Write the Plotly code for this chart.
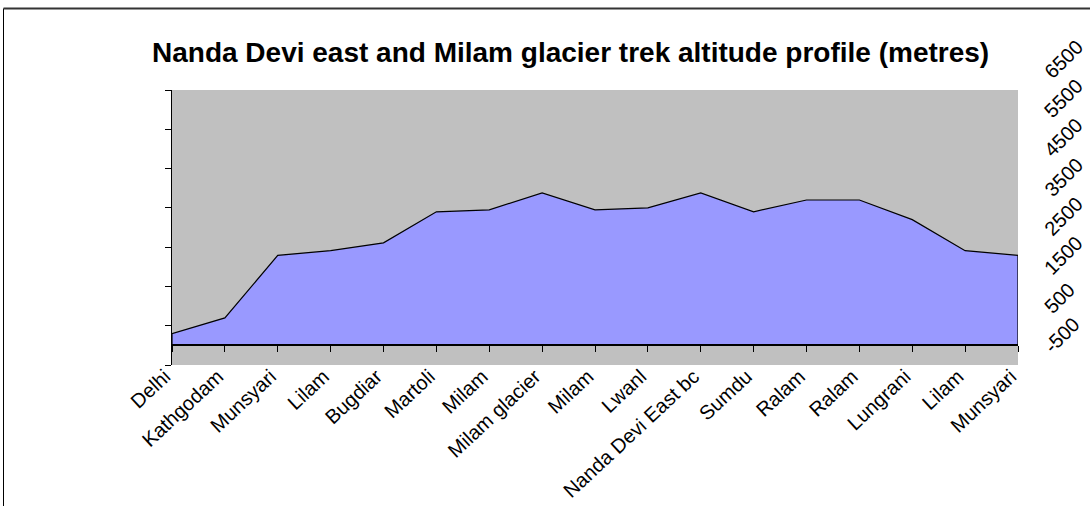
import plotly.graph_objects as go

# Trek stages and altitudes (metres)
stages = ["Delhi", "Kathgodam", "Munsyari", "Lilam", "Bugdiar", "Martoli", "Milam",
          "Milam glacier", "Milam", "Lwanl", "Nanda Devi East bc", "Sumdu", "Ralam",
          "Ralam", "Lungrani", "Lilam", "Munsyari"]
altitude = [300, 700, 2290, 2410, 2610, 3400, 3450, 3880, 3450, 3500, 3880,
            3400, 3700, 3700, 3200, 2410, 2290]
axis_ticks = [-500, 500, 1500, 2500, 3500, 4500, 5500, 6500]

FONT = "Arial, Liberation Sans, sans-serif"

# page geometry (px)
W, H = 1090, 506
L_M, R_M, T_M, B_M = 172, 72, 90, 141
PW = W - L_M - R_M
PH = H - T_M - B_M
Y0, Y1 = -500, 6500


def px_x(px):
    return (px - L_M) / PW


def px_y(py):
    return (H - B_M - py) / PH


idx = list(range(len(stages)))

fig = go.Figure()
# area polygon closed down to zero at both ends
fig.add_trace(go.Scatter(
    x=[idx[0]] + idx + [idx[-1]],
    y=[0] + altitude + [0],
    mode="lines",
    fill="toself",
    fillcolor="#9999FF",
    line=dict(color="black", width=1.2),
    hoverinfo="skip",
    showlegend=False,
))
# category baseline at zero altitude (carries the tick marks on xaxis2)
fig.add_trace(go.Scatter(
    x=idx, y=[0] * len(idx), xaxis="x2", yaxis="y",
    mode="lines", line=dict(color="black", width=1.5),
    hoverinfo="skip", showlegend=False,
))

# right-hand rotated value labels
fs_r = 20
char_w = {"-": 0.333}
for v in axis_ticks:
    txt = str(v)
    tw = sum(char_w.get(c, 0.556) for c in txt) * fs_r
    th = 0.72 * fs_r
    sx = 1053
    cx = sx + 0.354 * (tw - th)
    shift = 10.5 + 0.354 * (tw + th)
    fig.add_annotation(
        x=px_x(cx), xref="paper", y=v, yref="y", yshift=shift,
        text=txt, showarrow=False, textangle=-45,
        xanchor="center", yanchor="middle",
        font=dict(family=FONT, size=fs_r, color="black"),
    )

# title
fig.add_annotation(
    x=px_x(570), xref="paper", y=px_y(52), yref="paper",
    text="<b>Nanda Devi east and Milam glacier trek altitude profile (metres)</b>",
    showarrow=False, xanchor="center", yanchor="middle",
    font=dict(family=FONT, size=28, color="black"),
)

# chart-area frame (top and left edges)
fig.add_shape(type="line", xref="paper", yref="paper",
              x0=px_x(3.5), x1=px_x(3.5), y0=px_y(H + 5), y1=px_y(8.5),
              line=dict(color="black", width=1))
fig.add_shape(type="line", xref="paper", yref="paper",
              x0=px_x(3.5), x1=px_x(W + 5), y0=px_y(8.5), y1=px_y(8.5),
              line=dict(color="#333333", width=2))

fig.update_layout(
    width=W, height=H,
    margin=dict(l=L_M, r=R_M, t=T_M, b=B_M, autoexpand=False),
    paper_bgcolor="white",
    plot_bgcolor="#C0C0C0",
    showlegend=False,
    xaxis=dict(
        range=[0, len(stages) - 1], automargin=False,
        anchor="free", position=5 / PH,
        tickmode="array", tickvals=idx, ticktext=stages,
        tickangle=-43, ticks="", showgrid=False, zeroline=False,
        showline=False, ticklabelshift=-7,
        tickfont=dict(family=FONT, size=20, color="black"),
    ),
    xaxis2=dict(
        overlaying="x", anchor="free", automargin=False,
        position=(0 - Y0) / (Y1 - Y0),
        range=[0, len(stages) - 1],
        tickmode="array", tickvals=idx,
        showticklabels=False, ticks="outside", ticklen=6,
        tickcolor="black", tickwidth=1,
        showline=True, linecolor="black", linewidth=1.5,
        showgrid=False, zeroline=False,
    ),
    yaxis=dict(
        range=[Y0, Y1], automargin=False,
        tickmode="array", tickvals=axis_ticks,
        showticklabels=False, ticks="outside", ticklen=6,
        tickcolor="black", tickwidth=1,
        showline=True, linecolor="black", linewidth=1,
        showgrid=False, zeroline=False,
    ),
)

fig.write_html("out.html")
